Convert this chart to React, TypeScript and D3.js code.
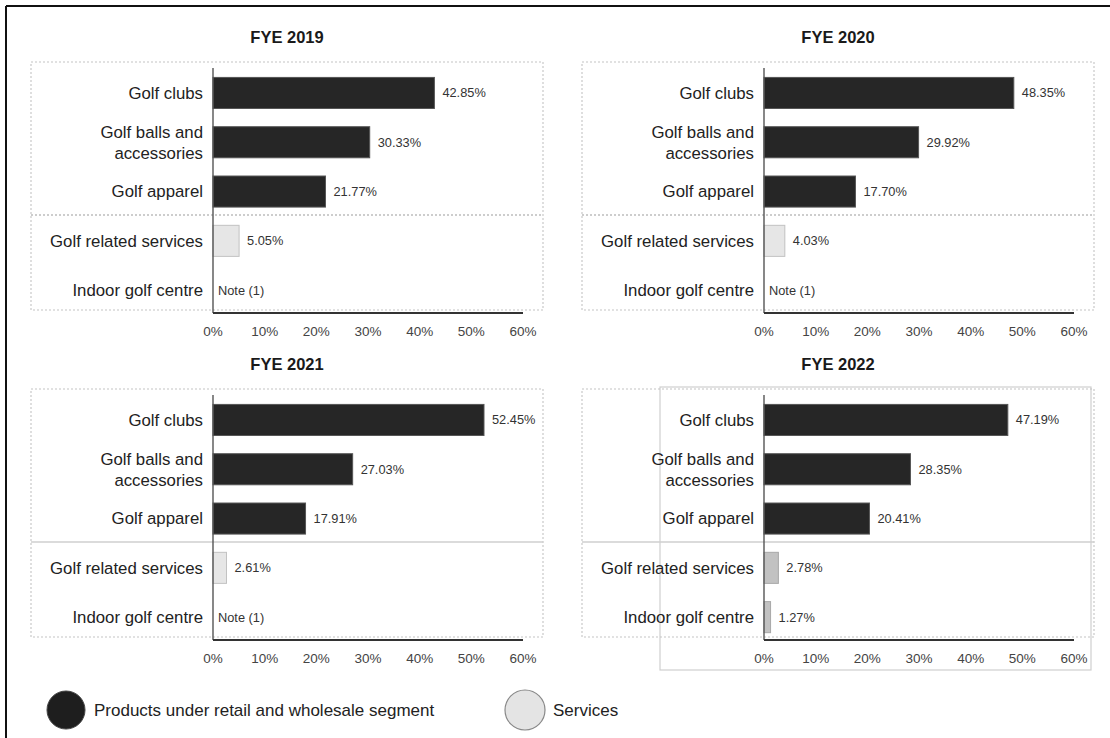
import React from "react";
import * as d3 from "d3";

const categories = [
  "Golf clubs",
  "Golf balls and accessories",
  "Golf apparel",
  "Golf related services",
  "Indoor golf centre",
];
const categoryLines: string[][] = [
  ["Golf clubs"],
  ["Golf balls and", "accessories"],
  ["Golf apparel"],
  ["Golf related services"],
  ["Indoor golf centre"],
];
const segments = ["product", "product", "product", "service", "service"];
const years = ["FYE 2019", "FYE 2020", "FYE 2021", "FYE 2022"];
const values2019: (number | null)[] = [42.85, 30.33, 21.77, 5.05, null];
const values2020: (number | null)[] = [48.35, 29.92, 17.7, 4.03, null];
const values2021: (number | null)[] = [52.45, 27.03, 17.91, 2.61, null];
const values2022: (number | null)[] = [47.19, 28.35, 20.41, 2.78, 1.27];
const tickValues = [0, 10, 20, 30, 40, 50, 60];
const legendLabels = ["Products under retail and wholesale segment", "Services"];

const allValues = [values2019, values2020, values2021, values2022];
const FONT = "'Liberation Sans', Arial, Helvetica, sans-serif";

function Panel({ idx, dx, dy }: { idx: number; dx: number; dy: number }) {
  const vals = allValues[idx];
  const x = d3.scaleLinear().domain([0, 60]).range([213, 523]);
  const y = d3
    .scaleBand<string>()
    .domain(categories)
    .range([68.3, 314.8])
    .paddingInner(0.37)
    .paddingOuter(0.185);
  const bw = y.bandwidth();
  const dashedSep = idx < 2;
  const darkService = idx === 3;
  return (
    <g transform={`translate(${dx},${dy})`}>
      {idx === 3 && (
        <rect x={109} y={60} width={431} height={283} fill="none" stroke="#cfcfcf" strokeWidth={1.2} />
      )}
      <text x={287} y={43} textAnchor="middle" fontFamily={FONT} fontWeight="bold" fontSize={16.5} fill="#1a1a1a">
        {years[idx]}
      </text>
      <rect x={31} y={62} width={512} height={248} fill="none" stroke="#c4c4c4" strokeWidth={1.1} strokeDasharray="2,2" />
      <line
        x1={31}
        x2={543}
        y1={215}
        y2={215}
        stroke={dashedSep ? "#bdbdbd" : "#cfcfcf"}
        strokeWidth={1.3}
        strokeDasharray={dashedSep ? "2,2" : undefined}
      />
      {categories.map((c, i) => {
        const v = vals[i];
        const yc = (y(c) as number) + bw / 2;
        const lines = categoryLines[i];
        const isProd = segments[i] === "product";
        return (
          <g key={c}>
            {lines.map((ln, j) => (
              <text
                key={j}
                x={203}
                y={yc + (j - (lines.length - 1) / 2) * 21}
                dy="0.35em"
                textAnchor="end"
                fontFamily={FONT}
                fontSize={16.8}
                fill="#222"
              >
                {ln}
              </text>
            ))}
            {v !== null ? (
              <>
                <rect
                  x={x(0)}
                  y={y(c)}
                  width={x(v) - x(0)}
                  height={bw}
                  fill={isProd ? "#262626" : darkService ? "#c2c2c2" : "#e6e6e6"}
                  stroke={isProd ? "#555" : darkService ? "#a8a8a8" : "#c2c2c2"}
                  strokeWidth={1}
                />
                <text x={x(v) + 8} y={yc} dy="0.35em" fontFamily={FONT} fontSize={12.8} fill="#333">
                  {v.toFixed(2) + "%"}
                </text>
              </>
            ) : (
              <text x={x(0) + 5} y={yc} dy="0.35em" fontFamily={FONT} fontSize={12.8} fill="#333">
                Note (1)
              </text>
            )}
          </g>
        );
      })}
      <line x1={x(0)} x2={x(0)} y1={68} y2={313} stroke="#555" strokeWidth={1.4} />
      <line x1={x(0)} x2={x(60)} y1={313} y2={313} stroke="#333" strokeWidth={1.8} />
      {tickValues.map((t) => (
        <text key={t} x={x(t)} y={331} dy="0.35em" textAnchor="middle" fontFamily={FONT} fontSize={13.5} fill="#444">
          {t + "%"}
        </text>
      ))}
    </g>
  );
}

export default function App() {
  return (
    <svg
      width={1110}
      height={738}
      style={{ position: "absolute", left: 0, top: 0, background: "#fff" }}
    >
      <rect x={0} y={0} width={1110} height={738} fill="#fff" />
      <line x1={6} x2={1110} y1={6} y2={6} stroke="#111" strokeWidth={2} />
      <line x1={6} x2={6} y1={6} y2={738} stroke="#111" strokeWidth={2} />
      <Panel idx={0} dx={0} dy={0} />
      <Panel idx={1} dx={551} dy={0} />
      <Panel idx={2} dx={0} dy={327} />
      <Panel idx={3} dx={551} dy={327} />
      <circle cx={66} cy={710} r={19} fill="#1e1e1e" stroke="#444" strokeWidth={1} />
      <text x={94} y={710} dy="0.35em" fontFamily={FONT} fontSize={17} fill="#222">
        {legendLabels[0]}
      </text>
      <circle cx={525} cy={710} r={20} fill="#e4e4e4" stroke="#888" strokeWidth={1.2} />
      <text x={553} y={710} dy="0.35em" fontFamily={FONT} fontSize={17} fill="#222">
        {legendLabels[1]}
      </text>
    </svg>
  );
}
